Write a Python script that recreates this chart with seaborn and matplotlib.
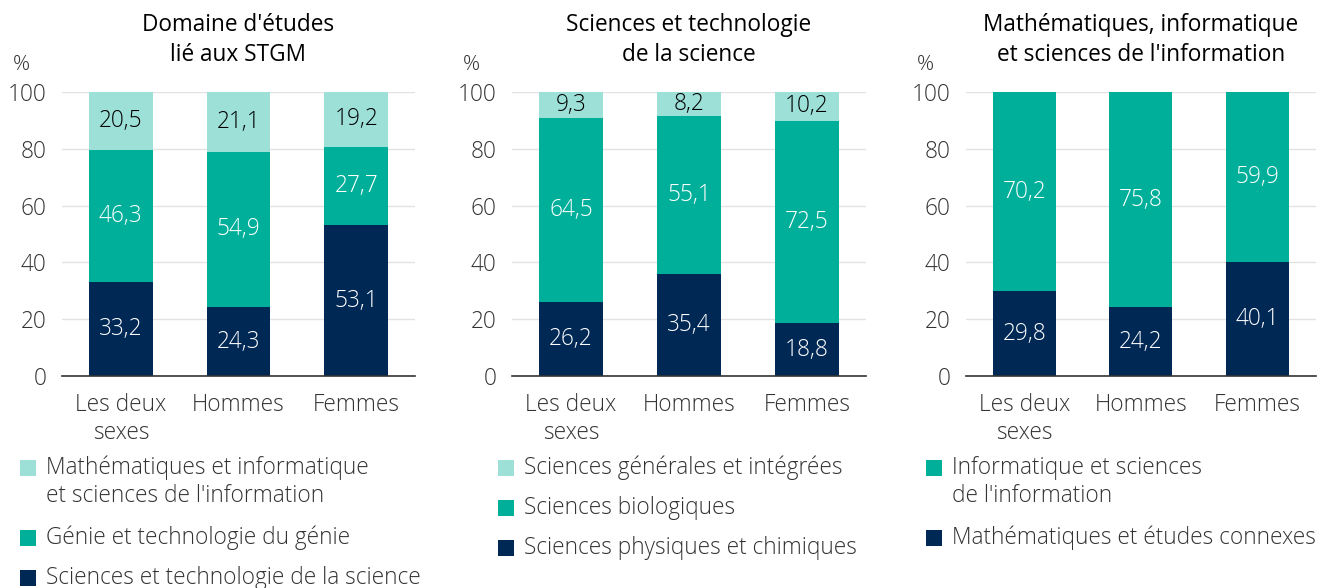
import numpy as np
import pandas as pd
import matplotlib
matplotlib.use("Agg")
import matplotlib.pyplot as plt
from matplotlib.patches import Rectangle
import seaborn as sns

# ---- data ----
categories = ["Les deux\nsexes", "Hommes", "Femmes"]

titles = ["Domaine d'études\nlié aux STGM",
          "Sciences et technologie\nde la science",
          "Mathématiques, informatique\net sciences de l'information"]

# panel 1 (bottom -> top)
p1_sci_tech = [33.2, 24.3, 53.1]
p1_genie = [46.3, 54.9, 27.7]
p1_math_info = [20.5, 21.1, 19.2]
p1_labels = ["Sciences et technologie de la science",
             "Génie et technologie du génie",
             "Mathématiques et informatique\net sciences de l'information"]

# panel 2
p2_phys_chim = [26.2, 35.4, 18.8]
p2_bio = [64.5, 55.1, 72.5]
p2_gen = [9.3, 8.2, 10.2]
p2_labels = ["Sciences physiques et chimiques",
             "Sciences biologiques",
             "Sciences générales et intégrées"]

# panel 3
p3_math = [29.8, 24.2, 40.1]
p3_info = [70.2, 75.8, 59.9]
p3_labels = ["Mathématiques et études connexes",
             "Informatique et sciences\nde l'information"]

yticks = [0, 20, 40, 60, 80, 100]

LIGHT = "#9ce0d8"
MID = "#00af9a"
DARK = "#002855"

sns.set_theme(style="white")
plt.rcParams['font.family'] = ['Open Sans', 'DejaVu Sans']
plt.rcParams['font.weight'] = 'light'
TXT = "#333333"
FS = 16.3

fig = plt.figure(figsize=(13.21, 5.88), dpi=100)

W, H = 1321, 588
axes_px = [(62, 415), (512, 866), (966, 1316)]
legend_sq_px = [20, 498, 926]
top_px, bot_px = 92, 376

panels = [
    ([p1_sci_tech, p1_genie, p1_math_info], [DARK, MID, LIGHT], p1_labels,
     ["white", "white", "black"]),
    ([p2_phys_chim, p2_bio, p2_gen], [DARK, MID, LIGHT], p2_labels,
     ["white", "white", "black"]),
    ([p3_math, p3_info], [DARK, MID], p3_labels, ["white", "white"]),
]

for i, ((x0, x1), (series, colors, labels, tcolors)) in enumerate(zip(axes_px, panels)):
    ax = fig.add_axes([x0 / W, 1 - bot_px / H, (x1 - x0) / W, (bot_px - top_px) / H])
    arr = np.array(series, dtype=float)
    totals = arr.sum(axis=0)
    shares = arr / totals * 100  # 100% stacked bars
    bottom = np.zeros(len(categories))
    for vals, h, col, tc in zip(series, shares, colors, tcolors):
        df = pd.DataFrame({"cat": categories, "val": h})
        sns.barplot(data=df, x="cat", y="val", color=col, saturation=1,
                    width=0.54, bottom=bottom.copy(), ax=ax, linewidth=0, zorder=3)
        cont = ax.containers[-1]
        ax.bar_label(cont, labels=[f"{v:.1f}".replace(".", ",") for v in vals],
                     label_type="center", color=tc, fontsize=FS)
        bottom = bottom + h

    ax.set_xlim(-0.5, 2.5)
    ax.set_ylim(0, 100)
    ax.set_yticks(yticks)
    ax.set_yticklabels([str(t) for t in yticks], fontsize=FS, color=TXT)
    ax.set_xlabel("")
    ax.set_ylabel("")
    ax.set_xticks(range(len(categories)))
    ax.set_xticklabels(categories, fontsize=FS, color=TXT, linespacing=1.18)
    ax.set_xticks([-0.5, 0.5, 1.5, 2.5], minor=True)
    ax.tick_params(axis="x", which="major", length=0, pad=12.5)
    ax.tick_params(axis="x", which="minor", length=8, width=1, color="#333333", direction="out")
    ax.tick_params(axis="y", length=0, pad=11)
    ax.grid(axis="y", color="#e2e2e2", linewidth=1, zorder=0)
    ax.set_axisbelow(True)
    for s in ["left", "right", "top"]:
        ax.spines[s].set_visible(False)
    ax.spines["bottom"].set_color("#333333")
    ax.spines["bottom"].set_linewidth(1.2)
    ax.spines["bottom"].set_zorder(5)
    ax.set_title(titles[i], fontsize=FS, color="black", pad=22, linespacing=1.38)
    fig.text((x0 - 49) / W, 1 - 65 / H, "%", fontsize=FS - 1, color=TXT, ha="left", va="center")

    # legend (top entry first, as in reference)
    sq_x = legend_sq_px[i]
    txt_x = sq_x + 26
    y = 468
    for lab, col in zip(reversed(labels), reversed(colors)):
        nlines = lab.count("\n") + 1
        fig.patches.append(Rectangle((sq_x / W, 1 - (y + 8) / H), 16 / W, 16 / H,
                                     transform=fig.transFigure, facecolor=col,
                                     edgecolor="none"))
        fig.text(txt_x / W, 1 - (y - 12.5) / H, lab, fontsize=FS, color=TXT,
                 ha="left", va="top", linespacing=1.25)
        y += 40 + (nlines - 1) * 30

fig.savefig("out.png", dpi=100, facecolor="white")
